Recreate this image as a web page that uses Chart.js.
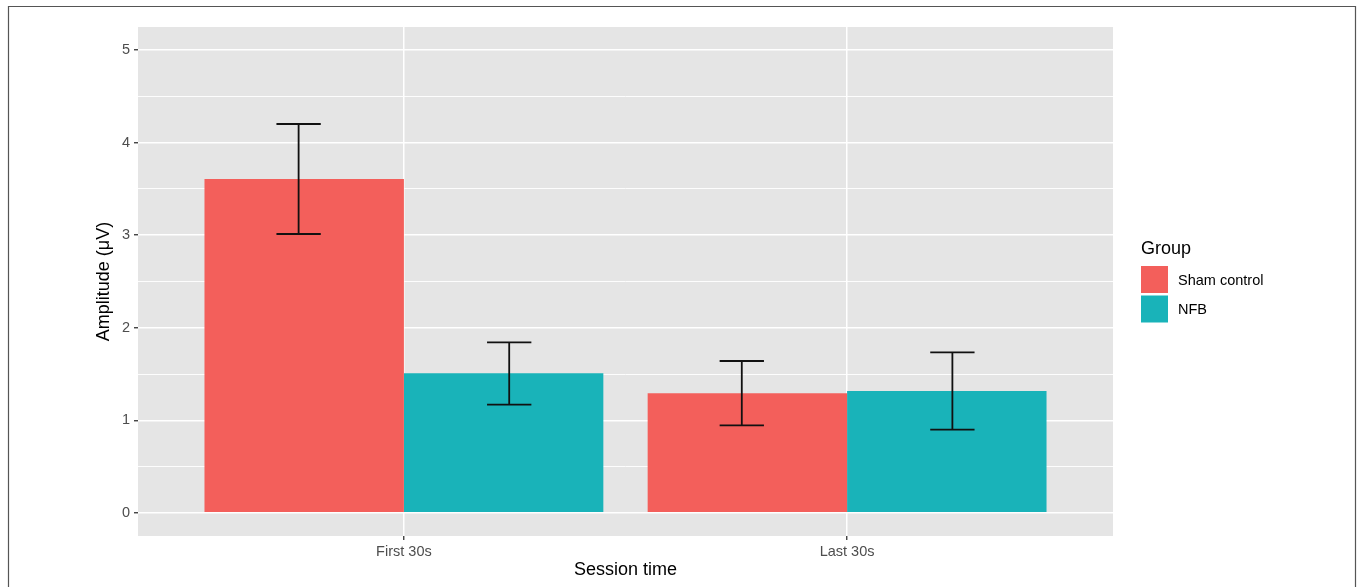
<!DOCTYPE html>
<html><head><meta charset="utf-8">
<script src="https://cdn.jsdelivr.net/npm/chart.js@4/dist/chart.umd.min.js"></script>
<style>html,body{margin:0;padding:0;background:#fff;}#wrap{width:1360px;height:587px;position:relative;}</style>
</head><body><div id="wrap"><canvas id="c" width="1360" height="587"></canvas></div>
<script>
const categories = ['First 30s', 'Last 30s'];
const groups = ['Sham control', 'NFB'];
const shamMeans = [3.608, 1.292];
const nfbMeans = [1.508, 1.317];
const shamLower = [3.013, 0.946];
const shamUpper = [4.202, 1.641];
const nfbLower = [1.169, 0.899];
const nfbUpper = [1.843, 1.735];
const yTicks = [0, 1, 2, 3, 4, 5];
const yMinorTicks = [0.5, 1.5, 2.5, 3.5, 4.5];
const groupColors = ['#F35F5B', '#19B3B9'];

const FONT = '"Liberation Sans", Arial, Helvetica, sans-serif';
const means = [shamMeans, nfbMeans];
const lowers = [shamLower, nfbLower];
const uppers = [shamUpper, nfbUpper];

const bgPlugin = {
  id: 'bg',
  beforeDraw(chart) {
    const c = chart.ctx, a = chart.chartArea;
    c.save();
    c.fillStyle = '#fff';
    c.fillRect(0, 0, chart.width, chart.height);
    c.strokeStyle = '#555';
    c.lineWidth = 1.2;
    c.beginPath();
    c.moveTo(8.5, chart.height + 5);
    c.lineTo(8.5, 6.5);
    c.lineTo(1355.5, 6.5);
    c.lineTo(1355.5, chart.height + 5);
    c.stroke();
    c.fillStyle = '#E5E5E5';
    c.fillRect(a.left, a.top, a.right - a.left, a.bottom - a.top);
    c.restore();
  }
};

const errPlugin = {
  id: 'errbars',
  afterDatasetsDraw(chart) {
    const c = chart.ctx, xs = chart.scales.x, ys = chart.scales.y;
    const offs = [-0.2376, 0.2376];
    const half = 0.05;
    c.save();
    c.strokeStyle = '#111';
    c.lineWidth = 1.8;
    for (let d = 0; d < 2; d++) {
      for (let i = 0; i < categories.length; i++) {
        const cx = xs.getPixelForValue(i + 1 + offs[d]);
        const x0 = xs.getPixelForValue(i + 1 + offs[d] - half);
        const x1 = xs.getPixelForValue(i + 1 + offs[d] + half);
        const yl = ys.getPixelForValue(lowers[d][i]);
        const yu = ys.getPixelForValue(uppers[d][i]);
        c.beginPath();
        c.moveTo(cx, yl); c.lineTo(cx, yu);
        c.moveTo(x0, yl); c.lineTo(x1, yl);
        c.moveTo(x0, yu); c.lineTo(x1, yu);
        c.stroke();
      }
    }
    c.restore();
  }
};

const legendPlugin = {
  id: 'ggLegend',
  afterDraw(chart) {
    const c = chart.ctx;
    c.save();
    c.fillStyle = '#000';
    c.textBaseline = 'middle';
    c.textAlign = 'left';
    c.font = '18px ' + FONT;
    c.fillText('Group', 1141, 249);
    const keyY = [266, 295.5];
    const labY = [280.5, 309.5];
    c.font = '14.5px ' + FONT;
    for (let d = 0; d < groups.length; d++) {
      c.fillStyle = groupColors[d];
      c.fillRect(1141, keyY[d], 27, 27);
      c.fillStyle = '#000';
      c.fillText(groups[d], 1178, labY[d]);
    }
    c.restore();
  }
};

const datasets = groups.map((g, d) => ({
  label: g,
  data: categories.map((cat, i) => ({ x: i + 1, y: means[d][i] })),
  backgroundColor: groupColors[d],
  borderWidth: 0,
  categoryPercentage: 0.9,
  barPercentage: 1.0
}));

new Chart(document.getElementById('c'), {
  type: 'bar',
  data: { datasets },
  plugins: [bgPlugin, errPlugin, legendPlugin],
  options: {
    responsive: false,
    animation: false,
    layout: { padding: { top: 27, right: 247, left: 0, bottom: 0 } },
    plugins: { legend: { display: false }, tooltip: { enabled: false } },
    scales: {
      x: {
        type: 'linear',
        min: 1 - 0.6,
        max: categories.length + 0.6,
        offset: false,
        afterBuildTicks(s) { s.ticks = categories.map((c, i) => ({ value: i + 1 })); },
        afterFit(s) { s.height = 51; },
        ticks: {
          autoSkip: false,
          maxRotation: 0,
          padding: 3,
          color: '#4D4D4D',
          font: { family: FONT, size: 14.5 },
          callback: (v) => categories[Math.round(v) - 1] || ''
        },
        grid: { offset: false, color: '#fff', lineWidth: 1.5, tickLength: 4, tickColor: '#333', tickWidth: 1.3 },
        border: { display: false },
        title: { display: true, text: 'Session time', color: '#000', font: { family: FONT, size: 18 }, padding: { top: 0, bottom: 6 } }
      },
      y: {
        type: 'linear',
        min: -0.25,
        max: 5.25,
        afterBuildTicks(s) {
          s.ticks = yTicks.concat(yMinorTicks).sort((a, b) => a - b).map(v => ({ value: v }));
        },
        afterFit(s) { s.width = 138; },
        ticks: {
          autoSkip: false,
          padding: 4,
          color: '#4D4D4D',
          font: { family: FONT, size: 14.5 },
          callback: (v) => yTicks.includes(v) ? String(v) : ''
        },
        grid: {
          color: '#fff',
          lineWidth: (ctx) => (ctx.tick && yTicks.includes(ctx.tick.value)) ? 1.5 : 0.9,
          tickLength: 4,
          tickColor: (ctx) => (ctx.tick && yTicks.includes(ctx.tick.value)) ? '#333' : 'rgba(0,0,0,0)',
          tickWidth: 1.3
        },
        border: { display: false },
        title: { display: true, text: 'Amplitude (μV)', color: '#000', font: { family: FONT, size: 18 }, padding: { top: 93, bottom: 0 } }
      }
    }
  }
});
</script></body></html>
